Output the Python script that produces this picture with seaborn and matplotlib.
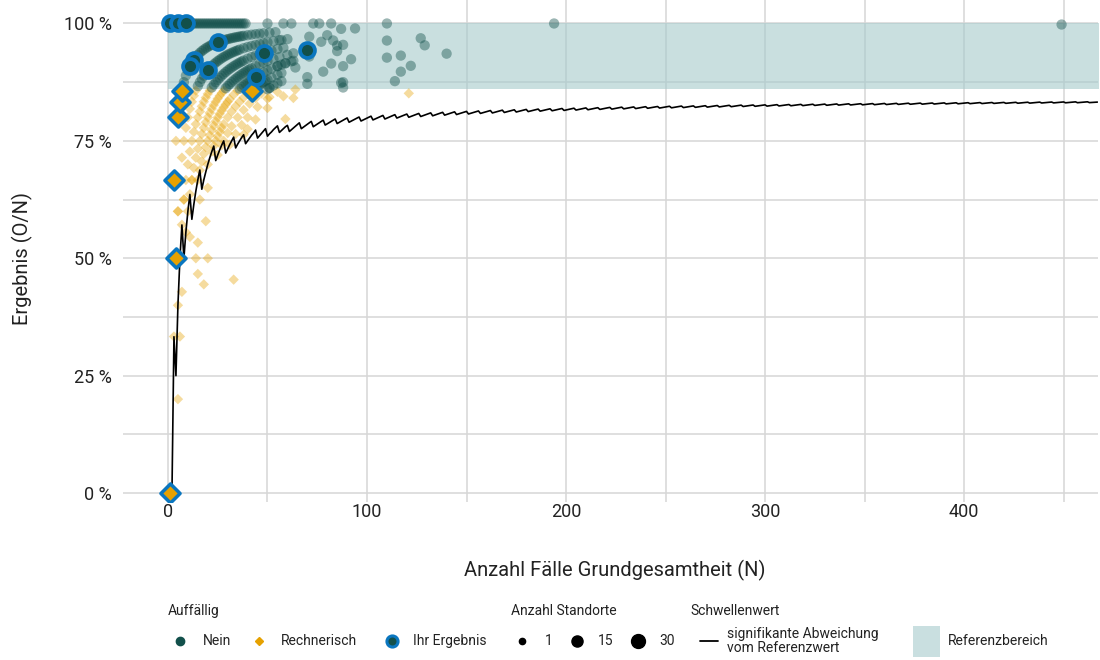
import numpy as np
import pandas as pd
import matplotlib
matplotlib.use("Agg")
import matplotlib.pyplot as plt
import seaborn as sns

# ---------------- data (N = Fälle, O = beobachtete Ereignisse) ----------------
# "Nein" (nicht auffällig): arcs O = N - d
nein_d0_n = [1, 2, 3, 4, 5, 6, 7, 8, 9, 10, 11, 12, 13, 14, 15, 16, 17, 18, 19, 20,
             21, 22, 23, 24, 25, 26, 27, 28, 29, 30, 31, 32, 33, 34, 35, 36, 37, 38, 39,
             50, 58, 62, 73, 76, 82, 110, 194]
nein_d1_n = [8, 9, 10, 11, 12, 13, 14, 15, 16, 17, 18, 19, 20, 21, 22, 23, 24, 25, 26, 27,
             28, 29, 30, 31, 32, 33, 34, 35, 36, 37, 38, 40, 42, 44, 46, 48, 51, 54, 449]
nein_d2_n = [15, 16, 17, 18, 19, 20, 21, 22, 23, 24, 25, 26, 27, 28, 29, 30, 31, 32, 33, 34,
             35, 36, 38, 40, 42, 44, 46, 48, 50, 53, 56, 60]
nein_d3_n = [22, 23, 24, 25, 26, 27, 28, 29, 30, 31, 32, 33, 34, 35, 36, 37, 38, 40, 42, 44,
             46, 49, 52, 55, 58]
nein_d4_n = [29, 30, 31, 32, 33, 34, 35, 36, 37, 38, 39, 40, 41, 42, 44, 46, 48, 50, 53, 56]
nein_d5_n = [36, 37, 38, 39, 40, 41, 42, 43, 44, 45, 46, 48, 50, 52, 55, 59]
nein_d6_n = [43, 44, 45, 46, 47, 48, 49, 50, 52, 55, 57]
nein_d7_n = [50, 51, 53, 55, 57]
nein_extra_n = [71, 80, 77, 83, 87, 94, 88, 85, 92, 82, 88, 78, 70, 70, 87, 88, 110, 110,
                117, 117, 122, 114, 127, 129, 140, 64, 63, 63, 71, 59, 57, 55, 57, 62, 60,
                85, 51, 88]
nein_extra_o = [69, 78, 74, 80, 86, 93, 84, 80, 85, 75, 80, 70, 62, 61, 76, 76, 106, 102,
                109, 105, 111, 100, 123, 123, 131, 58, 58, 59, 66, 54, 52, 50, 55, 57, 56,
                81, 44, 77]

# "Rechnerisch" (rechnerisch auffällig): arcs O = N - d
rech_d1_n = [2, 3, 4, 5, 6, 7]
rech_d2_n = [4, 5, 6, 7, 8, 9, 10, 11, 12, 13, 14]
rech_d3_n = [7, 8, 9, 10, 11, 12, 13, 14, 15, 16, 17, 18, 19, 20, 21]
rech_d4_n = [11, 12, 13, 14, 15, 16, 17, 18, 19, 20, 21, 22, 23, 24, 25, 26, 27, 28]
rech_d5_n = [15, 16, 17, 18, 19, 20, 21, 22, 23, 24, 25, 26, 27, 28, 29, 30, 31, 33, 35]
rech_d6_n = [20, 22, 23, 24, 25, 26, 27, 28, 30, 32, 34, 36, 38, 40, 42]
rech_d7_n = [25, 27, 28, 30, 32, 35, 38, 41, 44, 47]
rech_d8_n = [31, 34, 37, 40, 45, 50, 55]
rech_d9_n = [38, 44, 50, 58]
rech_extra_n = [5, 3, 6, 7, 5, 14, 20, 15, 18, 33, 15, 11, 9, 19, 5, 8, 16, 10, 20, 12,
                64, 63, 59, 40, 121, 51]
rech_extra_o = [1, 1, 2, 3, 2, 7, 10, 7, 8, 15, 8, 6, 5, 11, 3, 5, 10, 6, 13, 8,
                55, 53, 47, 31, 103, 43]

# Ihr Ergebnis
ihr_nein_n = [1, 5, 9, 25, 13, 11, 20, 48, 70, 44]
ihr_nein_o = [1, 5, 9, 24, 12, 10, 18, 45, 66, 39]
ihr_rech_n = [1, 4, 3, 5, 6, 7, 42]
ihr_rech_o = [0, 2, 2, 4, 5, 6, 36]

# Schwellenwert: signifikante Abweichung vom Referenzwert (in %)
thr_n = [2, 3, 4, 5, 6, 7, 8, 9, 10, 11, 12, 13, 14, 15, 16, 17, 18, 19, 20,
         21, 22, 23, 24, 25, 26, 27, 28, 29, 30, 31, 32, 33, 34, 35, 36, 37, 38, 39, 40,
         41, 42, 43, 44, 45, 46, 47, 48, 49, 50, 51, 52, 53, 54, 55, 56, 57, 58, 59, 60, 61,
         66, 67, 72, 73, 78, 79, 84, 85, 90, 91, 96, 97, 102, 103, 108, 109, 114, 115,
         120, 121, 126, 127, 132, 133, 138, 139, 144, 145, 150, 151, 156, 157, 162, 163,
         168, 169, 174, 175, 180, 181, 186, 187, 192, 193, 198, 199, 204, 205, 210, 211,
         216, 217, 222, 223, 228, 229, 234, 235, 240, 241, 246, 247, 252, 253, 258, 259,
         264, 265, 270, 271, 276, 277, 282, 283, 288, 289, 294, 295, 300, 301, 306, 307,
         312, 313, 318, 319, 324, 325, 330, 331, 336, 337, 342, 343, 348, 349, 354, 355,
         360, 361, 366, 367, 372, 373, 378, 379, 384, 385, 390, 391, 396, 397, 402, 403,
         408, 409, 414, 415, 420, 421, 426, 427, 432, 433, 438, 439, 444, 445, 450, 451,
         456, 457, 462, 463, 467]
thr_pct = [0.0, 33.3, 25.0, 40.0, 50.0, 57.1, 50.0, 55.6, 60.0, 63.6, 58.3, 61.5, 64.3,
           66.7, 68.8, 64.7, 66.7, 68.4, 70.0,
           71.4, 72.7, 73.9, 70.8, 72.0, 73.1, 74.1, 75.0, 72.4, 73.3, 74.2, 75.0, 75.8,
           73.5, 74.3, 75.0, 75.7, 76.3, 74.4, 75.0,
           75.6, 76.2, 76.7, 77.3, 75.6, 76.1, 76.6, 77.1, 77.6, 76.0, 76.5, 76.9, 77.4,
           77.8, 78.2, 76.8, 77.2, 77.6, 78.0, 78.3, 77.0,
           78.84, 77.60, 79.15, 78.01, 79.42, 78.37, 79.66, 78.69, 79.88, 78.97, 80.08, 79.23,
           80.26, 79.46, 80.42, 79.66, 80.58, 79.86, 80.71, 80.03, 80.84, 80.19, 80.96, 80.34,
           81.08, 80.48, 81.18, 80.61, 81.28, 80.73, 81.37, 80.85, 81.46, 80.95, 81.54, 81.05,
           81.62, 81.15, 81.70, 81.24, 81.77, 81.33, 81.83, 81.41, 81.90, 81.48, 81.96, 81.56,
           82.02, 81.63, 82.07, 81.70, 82.13, 81.76, 82.18, 81.82, 82.23, 81.88, 82.28, 81.94,
           82.32, 81.99, 82.37, 82.04, 82.41, 82.09, 82.45, 82.14, 82.49, 82.19, 82.53, 82.23,
           82.57, 82.28, 82.61, 82.32, 82.64, 82.36, 82.67, 82.40, 82.71, 82.44, 82.74, 82.48,
           82.77, 82.51, 82.80, 82.55, 82.83, 82.58, 82.86, 82.62, 82.89, 82.65, 82.91, 82.68,
           82.94, 82.71, 82.97, 82.74, 82.99, 82.77, 83.02, 82.80, 83.04, 82.82, 83.06, 82.85,
           83.09, 82.88, 83.11, 82.90, 83.13, 82.93, 83.15, 82.95, 83.17, 82.98, 83.19, 83.00,
           83.21, 83.02, 83.23, 83.04, 83.25, 83.07, 83.27, 83.09, 83.29, 83.11, 83.31, 83.13,
           83.32, 83.15, 83.26]

ref_low, ref_high = 86, 100
x_ticks = [0, 100, 200, 300, 400]
y_ticks = [0, 25, 50, 75, 100]
y_tick_labels = ["0 %", "25 %", "50 %", "75 %", "100 %"]

# ---------------- build tables ----------------
def arcs(group, arc_lists):
    rows = []
    for d, ns in arc_lists:
        for n in ns:
            rows.append((group, n, n - d))
    return rows

rows = arcs("Nein", [(0, nein_d0_n), (1, nein_d1_n), (2, nein_d2_n), (3, nein_d3_n),
                     (4, nein_d4_n), (5, nein_d5_n), (6, nein_d6_n), (7, nein_d7_n)])
rows += [("Nein", n, o) for n, o in zip(nein_extra_n, nein_extra_o)]
rows += arcs("Rechnerisch", [(1, rech_d1_n), (2, rech_d2_n), (3, rech_d3_n), (4, rech_d4_n),
                             (5, rech_d5_n), (6, rech_d6_n), (7, rech_d7_n), (8, rech_d8_n),
                             (9, rech_d9_n)])
rows += [("Rechnerisch", n, o) for n, o in zip(rech_extra_n, rech_extra_o)]
df = pd.DataFrame(rows, columns=["group", "N", "O"])
df["pct"] = 100 * df["O"] / df["N"]

ihr_n = pd.DataFrame({"N": ihr_nein_n, "O": ihr_nein_o})
ihr_n["pct"] = 100 * ihr_n["O"] / ihr_n["N"]
ihr_r = pd.DataFrame({"N": ihr_rech_n, "O": ihr_rech_o})
ihr_r["pct"] = 100 * ihr_r["O"] / ihr_r["N"]
thr = pd.DataFrame({"N": thr_n, "pct": thr_pct})

# ---------------- style ----------------
sns.set_theme(style="white")
plt.rcParams['font.family'] = ['Roboto', 'DejaVu Sans']

GREEN = "#12504b"
YELLOW = "#e6a100"
BLUE = "#0a76bf"
BAND = "#c9dfe0"
BAND_SRC = "#a5cacb"   # drawn at alpha 0.6 over white -> BAND
GRID = "#d6d6d6"
TXT = "#222222"

fig = plt.figure(figsize=(11, 6.6), dpi=100)
ax = fig.add_axes([123 / 1100, 1 - 502 / 660, 975 / 1100, 502 / 660])
ax.set_xlim(-22.6, 467.3)
ax.set_ylim(-1.9, 105)

ax.fill_between([0, 480], ref_low, ref_high, color=BAND_SRC, alpha=0.6, lw=0, zorder=0.8)

sns.scatterplot(data=df[df.group == "Rechnerisch"], x="N", y="pct", ax=ax, marker="D",
                s=28, color=YELLOW, alpha=0.38, edgecolor="none", linewidth=0,
                legend=False, zorder=2)
sns.scatterplot(data=df[df.group == "Nein"], x="N", y="pct", ax=ax, marker="o",
                s=55, color=GREEN, alpha=0.42, edgecolor="none", linewidth=0,
                legend=False, zorder=3)
sns.lineplot(data=thr, x="N", y="pct", ax=ax, color="black", lw=1.2,
             estimator=None, sort=False, zorder=4)
sns.scatterplot(data=ihr_r, x="N", y="pct", ax=ax, marker="D", s=95, color=YELLOW,
                edgecolor=BLUE, linewidth=2.5, legend=False, zorder=5)
sns.scatterplot(data=ihr_n, x="N", y="pct", ax=ax, marker="o", s=115, color=GREEN,
                edgecolor=BLUE, linewidth=2.7, legend=False, zorder=6)

ax.set_xticks(x_ticks)
ax.set_xticks([50, 150, 250, 350, 450], minor=True)
ax.set_yticks(y_ticks)
ax.set_yticklabels(y_tick_labels)
ax.set_yticks([12.5, 37.5, 62.5, 87.5], minor=True)
ax.set_axisbelow(True)
ax.grid(False)
ax.xaxis.grid(True, which="both", color=GRID, lw=1.1, zorder=0.5)
ax.yaxis.grid(True, which="both", color=GRID, lw=1.1, zorder=0.5)
for s in ax.spines.values():
    s.set_visible(False)
ax.tick_params(which="both", length=0, labelsize=13, labelcolor=TXT)
ax.tick_params(axis="y", pad=8)
ax.tick_params(axis="x", pad=1)
ax.set_xlabel("")
ax.set_ylabel("")

fig.text(615 / 1100, 1 - 570 / 660, "Anzahl Fälle Grundgesamtheit (N)", ha="center",
         va="center", fontsize=14.5, color=TXT)
fig.text(22 / 1100, 1 - 259 / 660, "Ergebnis (O/N)", ha="center", va="center",
         rotation=90, fontsize=14.5, color=TXT)

# ---------------- legend ----------------
lg = fig.add_axes([0, 0, 1, 1], facecolor="none")
lg.set_xlim(0, 1100)
lg.set_ylim(660, 0)
lg.axis("off")
LF = ['Liberation Sans Narrow', 'Roboto', 'DejaVu Sans']
fs = 10
ty, iy = 611, 641
lg.text(168, ty, "Auffällig", fontsize=fs, family=LF, va="center", color=TXT)
lg.plot([180], [iy], "o", ms=6, color=GREEN)
lg.text(203, iy, "Nein", fontsize=fs, family=LF, va="center", color=TXT)
lg.plot([259], [iy], "D", ms=4.5, color=YELLOW)
lg.text(281, iy, "Rechnerisch", fontsize=fs, family=LF, va="center", color=TXT)
lg.plot([392], [iy], "o", ms=8, color=GREEN, mec=BLUE, mew=2.2)
lg.text(413, iy, "Ihr Ergebnis", fontsize=fs, family=LF, va="center", color=TXT)

lg.text(511, ty, "Anzahl Standorte", fontsize=fs, family=LF, va="center", color=TXT)
for x, ms, lab, tx in [(522, 4.5, "1", 545), (577, 8, "15", 598), (638, 10, "30", 659)]:
    lg.plot([x], [iy], "o", ms=ms, color="black")
    lg.text(tx, iy, lab, fontsize=fs, family=LF, va="center", color=TXT)

lg.text(690, ty, "Schwellenwert", fontsize=fs, family=LF, va="center", color=TXT)
lg.plot([700, 718], [iy, iy], color="black", lw=1.3)
lg.text(727, iy - 7, "signifikante Abweichung", fontsize=fs, family=LF, va="center", color=TXT)
lg.text(727, iy + 7, "vom Referenzwert", fontsize=fs, family=LF, va="center", color=TXT)

lg.add_patch(plt.Rectangle((913, 626), 27, 31, color=BAND, lw=0))
lg.text(948, iy, "Referenzbereich", fontsize=fs, family=LF, va="center", color=TXT)

fig.savefig("out.png", dpi=100)
